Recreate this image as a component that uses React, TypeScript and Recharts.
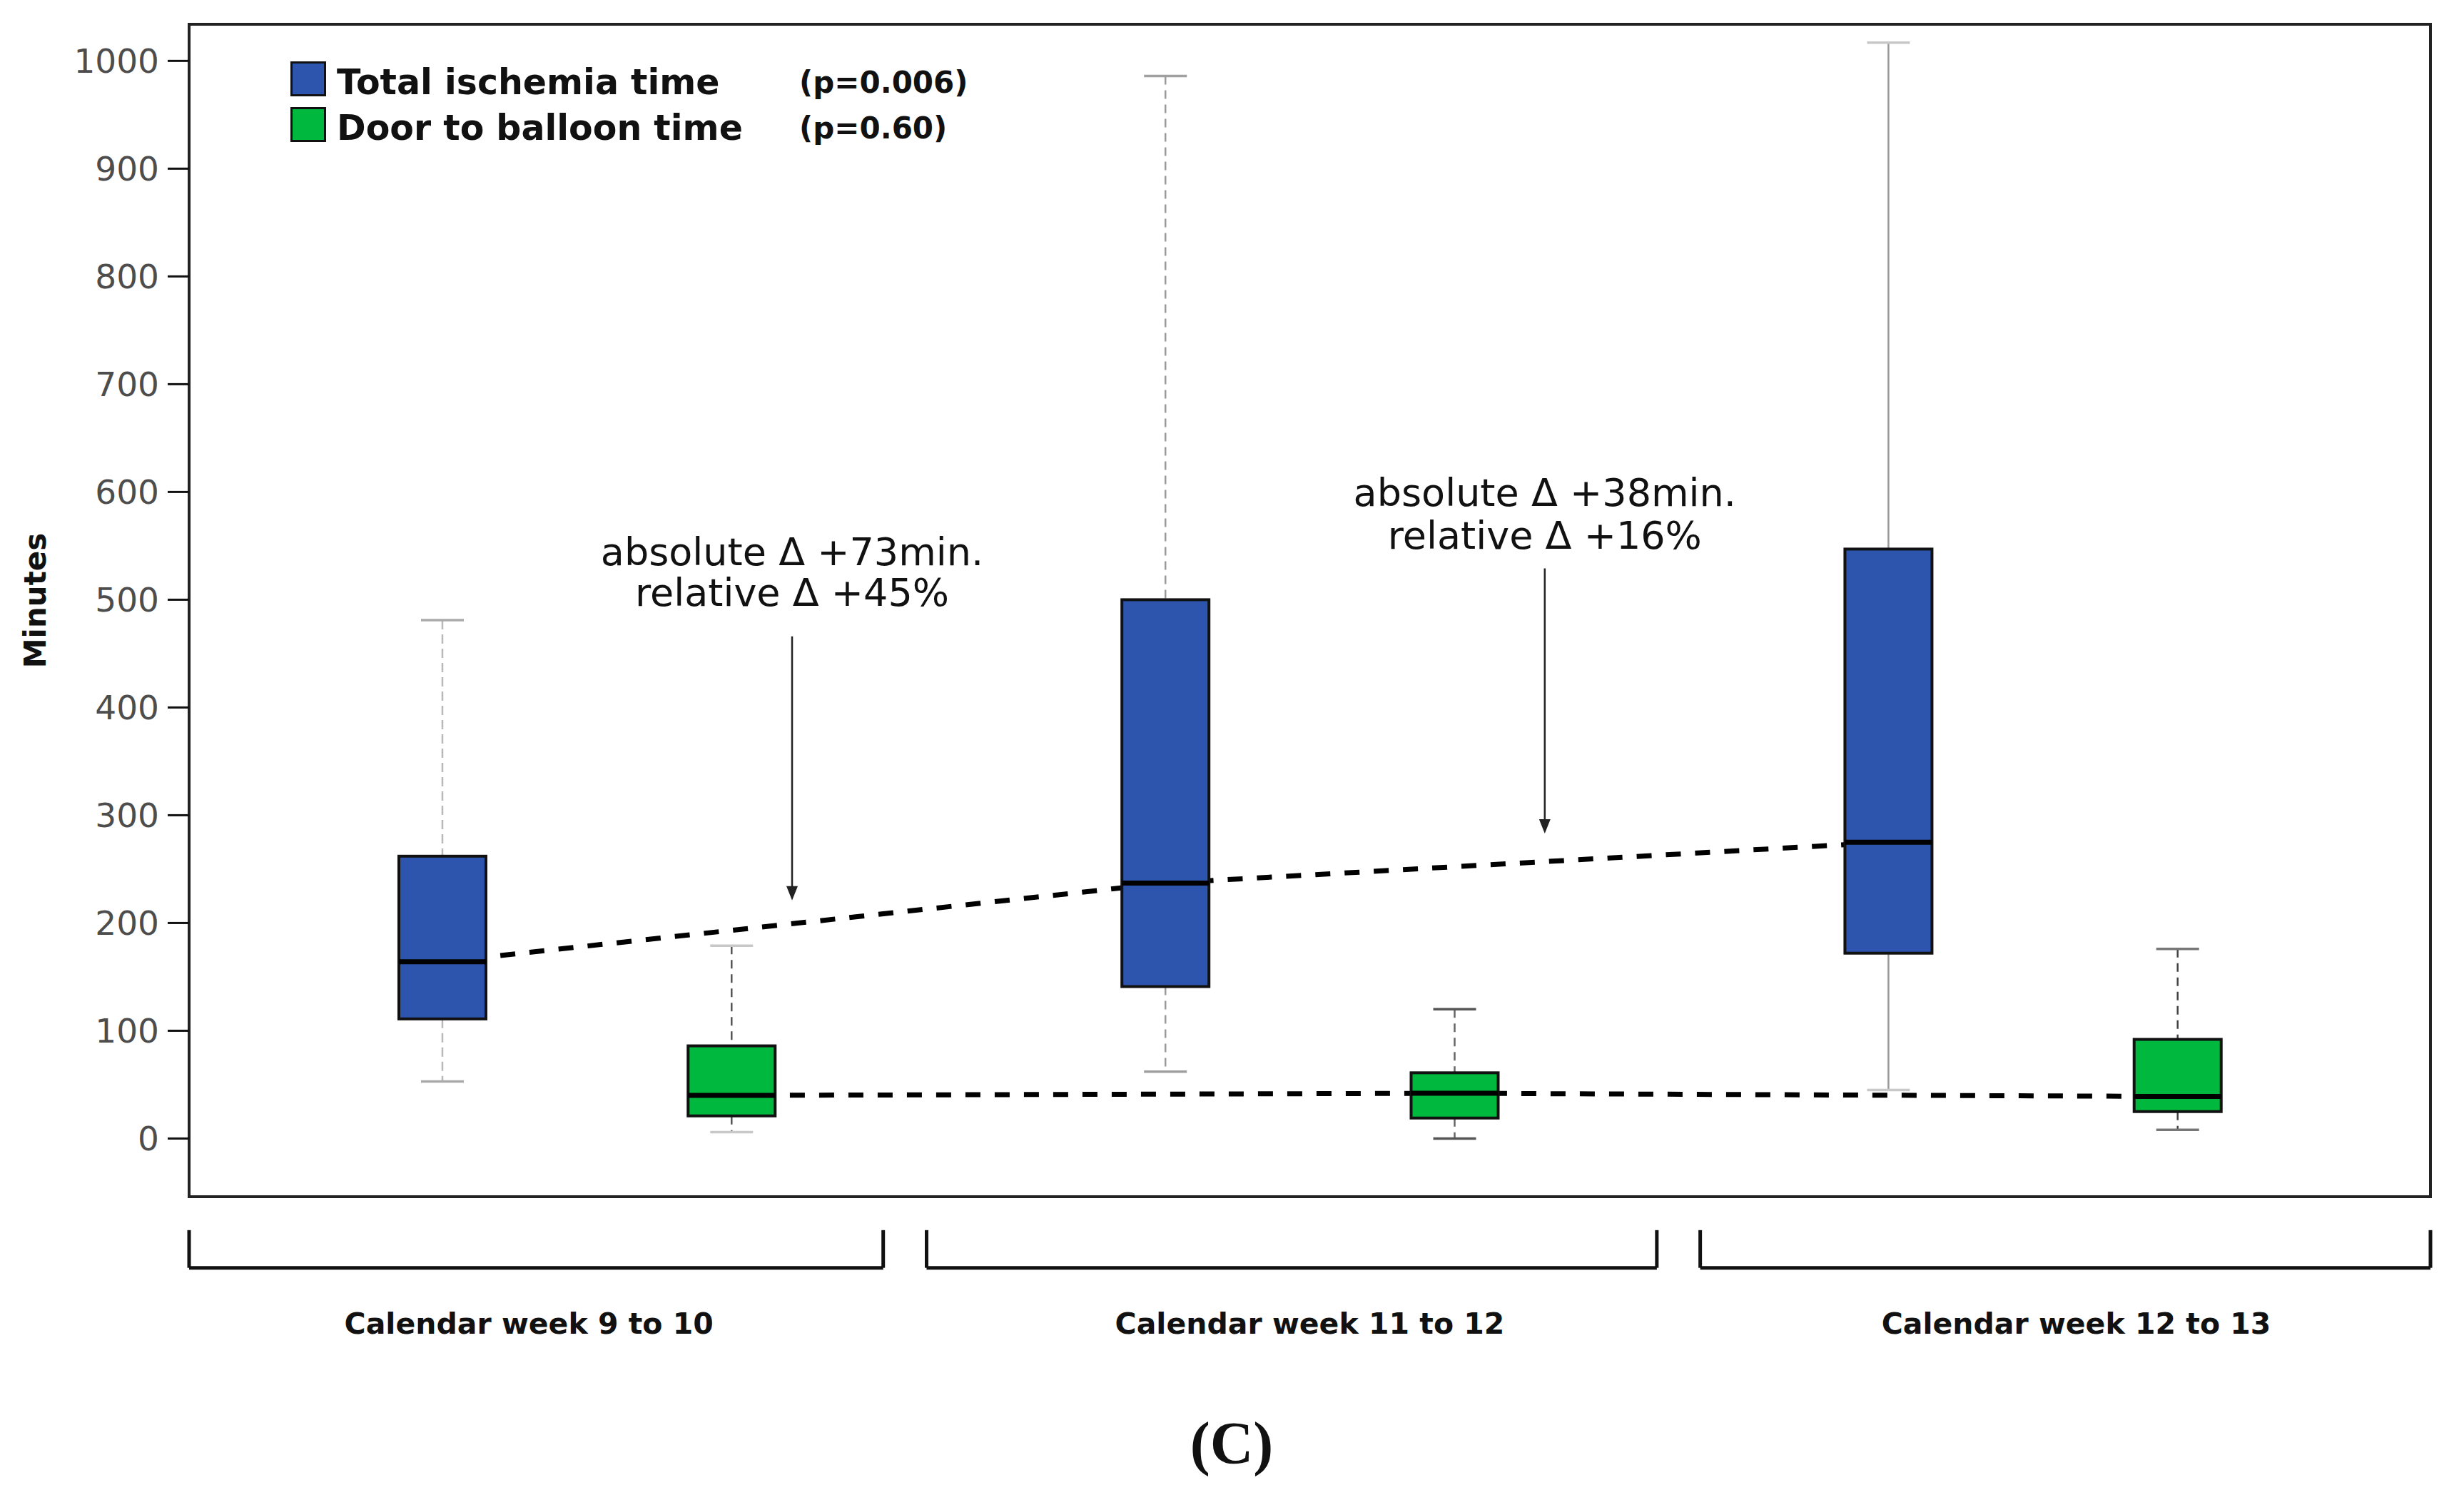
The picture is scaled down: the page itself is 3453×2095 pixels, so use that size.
import React from "react";
import {
  ComposedChart,
  Bar,
  Line,
  XAxis,
  YAxis,
  Legend,
  ReferenceArea,
  ReferenceLine,
  ReferenceDot,
} from "recharts";

// --- data (minutes) ---
const weeks = ["Calendar week 9 to 10", "Calendar week 11 to 12", "Calendar week 12 to 13"];

const ischemiaMin = [53, 62, 45];
const ischemiaQ1 = [111, 141, 172];
const ischemiaMedian = [164, 237, 275];
const ischemiaQ3 = [262, 500, 547];
const ischemiaMax = [481, 986, 1017];

const balloonMin = [6, 0, 8];
const balloonQ1 = [21, 19, 25];
const balloonMedian = [40, 42, 39];
const balloonQ3 = [86, 61, 92];
const balloonMax = [179, 120, 176];

const seriesNames = ["Total ischemia time", "Door to balloon time"];
const pValues = ["(p=0.006)", "(p=0.60)"];
const yTicks = [0, 100, 200, 300, 400, 500, 600, 700, 800, 900, 1000];

const deltaLines = [
  ["absolute \u0394 +73min.", "relative \u0394 +45%"],
  ["absolute \u0394 +38min.", "relative \u0394 +16%"],
];

// --- layout ---
const W = 3430;
const H = 2075;
const X_DOMAIN: [number, number] = [0, 31];
const Y_DOMAIN: [number, number] = [-54, 1034];
const GROUP_SPAN = 10;
const SERIES_OFFSET = [3.5, 7.5];
const COLORS = ["#2d55ad", "#00b83d"];
const LABEL_X = [4.7, 15.5, 26.1];
const BRACKETS = [
  [0, 9.6],
  [10.2, 20.3],
  [20.9, 31],
];
const BRACKET_TOP = -85;
const BRACKET_BOTTOM = -120;

// where the arrows / notes sit, in chart units
const NOTE_POS = [
  { x: 8.34, top: 466, tip: 221, rows: [532, 494] },
  { x: 18.75, top: 529, tip: 283, rows: [587, 547] },
];

// whisker look per box, in drawing order
const boxStyles = [
  { whisker: "#b8b8b8", dash: "13 7", cap: "#aaaaaa" },
  { whisker: "#555555", dash: "12 8", cap: "#c8c8c8" },
  { whisker: "#9a9a9a", dash: "12 8", cap: "#a0a0a0" },
  { whisker: "#666666", dash: "12 8", cap: "#555555" },
  { whisker: "#999999", dash: undefined, cap: "#c8c8c8" },
  { whisker: "#444444", dash: "12 8", cap: "#777777" },
];

const ischemiaRows = weeks.map((w, i) => ({
  week: w,
  series: 0,
  slot: i * 2,
  x: i * GROUP_SPAN + SERIES_OFFSET[0],
  min: ischemiaMin[i],
  q1: ischemiaQ1[i],
  median: ischemiaMedian[i],
  q3: ischemiaQ3[i],
  max: ischemiaMax[i],
}));

const balloonRows = weeks.map((w, i) => ({
  week: w,
  series: 1,
  slot: i * 2 + 1,
  x: i * GROUP_SPAN + SERIES_OFFSET[1],
  min: balloonMin[i],
  q1: balloonQ1[i],
  median: balloonMedian[i],
  q3: balloonQ3[i],
  max: balloonMax[i],
}));

const boxRows = weeks.flatMap((_, i) => [ischemiaRows[i], balloonRows[i]]);

function BoxShape(props: any) {
  const { x, y, width, height, payload } = props;
  if (!payload || !Number.isFinite(y) || !Number.isFinite(height)) return null;
  const top = Math.min(y, y + height);
  const span = Math.abs(height);
  const range = payload.max - payload.min || 1;
  const py = (v: number) => top + (span * (payload.max - v)) / range;
  const cx = x + width / 2;
  const s = boxStyles[payload.slot] ?? boxStyles[0];
  const cap = 30;
  return (
    <g>
      <line x1={cx} x2={cx} y1={py(payload.max)} y2={py(payload.q3)} stroke={s.whisker} strokeWidth={2.5} strokeDasharray={s.dash} />
      <line x1={cx} x2={cx} y1={py(payload.q1)} y2={py(payload.min)} stroke={s.whisker} strokeWidth={2.5} strokeDasharray={s.dash} />
      <line x1={cx - cap} x2={cx + cap} y1={py(payload.max)} y2={py(payload.max)} stroke={s.cap} strokeWidth={3.5} />
      <line x1={cx - cap} x2={cx + cap} y1={py(payload.min)} y2={py(payload.min)} stroke={s.cap} strokeWidth={3.5} />
      <rect
        x={x}
        y={py(payload.q3)}
        width={width}
        height={py(payload.q1) - py(payload.q3)}
        fill={COLORS[payload.series]}
        stroke="#111"
        strokeWidth={4}
      />
      <line x1={x} x2={x + width} y1={py(payload.median)} y2={py(payload.median)} stroke="#000" strokeWidth={7} />
    </g>
  );
}

function LegendBox() {
  return (
    <div style={{ position: "relative", fontFamily: "DejaVu Sans", fontWeight: "bold", color: "#111" }}>
      {seriesNames.map((name, i) => (
        <div key={name} style={{ position: "relative", height: 49, marginBottom: i === 0 ? 15 : 0, display: "flex", alignItems: "center" }}>
          <div
            style={{
              width: 50,
              height: 49,
              boxSizing: "border-box",
              border: "3px solid #111",
              background: COLORS[i],
            }}
          />
          <span style={{ marginLeft: 15, fontSize: 49, lineHeight: "49px", position: "relative", top: 5 }}>{name}</span>
          <span style={{ position: "absolute", left: 713, top: 5, fontSize: 42, lineHeight: "49px" }}>{pValues[i]}</span>
        </div>
      ))}
    </div>
  );
}

const renderMinutes = (p: any) => {
  const vb = p.viewBox;
  const cx = vb.x + 21;
  const cy = vb.y + vb.height / 2 - 14;
  return (
    <text
      x={cx}
      y={cy}
      transform={`rotate(-90 ${cx} ${cy})`}
      textAnchor="middle"
      dominantBaseline="central"
      fontSize={42}
      fontWeight="bold"
      fill="#111"
    >
      Minutes
    </text>
  );
};

export default function App() {
  return (
    <div style={{ position: "relative", width: W, height: 2087, fontFamily: "DejaVu Sans" }}>
      <ComposedChart
        width={W}
        height={H}
        data={boxRows}
        margin={{ top: 26, right: 32, bottom: 106, left: 20 }}
        style={{ fontFamily: "DejaVu Sans" }}
      >
        <XAxis
          type="number"
          dataKey="x"
          domain={X_DOMAIN}
          ticks={LABEL_X}
          interval={0}
          tickFormatter={(_v: number, i: number) => weeks[i]}
          axisLine={false}
          tickLine={false}
          tickSize={0}
          tickMargin={163}
          height={300}
          tick={{ fill: "#111", fontSize: 41, fontWeight: "bold" }}
          allowDataOverflow
        />
        <YAxis
          type="number"
          domain={Y_DOMAIN}
          ticks={yTicks}
          interval={0}
          width={237}
          axisLine={false}
          tickLine={{ stroke: "#111", strokeWidth: 3 }}
          tickSize={30}
          tickMargin={12}
          tick={{ fill: "#4d4d4d", fontSize: 47 }}
          allowDataOverflow
          label={{ content: renderMinutes }}
        />
        <ReferenceArea
          x1={X_DOMAIN[0]}
          x2={X_DOMAIN[1]}
          y1={Y_DOMAIN[0]}
          y2={Y_DOMAIN[1]}
          fill="none"
          stroke="#222"
          strokeWidth={4}
          ifOverflow="visible"
        />
        <Legend
          layout="horizontal"
          verticalAlign="middle"
          align="center"
          wrapperStyle={{ position: "absolute", top: 78, left: 399, width: 1100, height: 113 }}
          content={() => <LegendBox />}
        />
        <Line
          data={ischemiaRows}
          dataKey="median"
          type="linear"
          stroke="#000"
          strokeWidth={7}
          strokeDasharray="21 20"
          dot={false}
          activeDot={false}
          isAnimationActive={false}
          legendType="none"
          zIndex={250}
        />
        <Line
          data={balloonRows}
          dataKey="median"
          type="linear"
          stroke="#000"
          strokeWidth={7}
          strokeDasharray="21 20"
          dot={false}
          activeDot={false}
          isAnimationActive={false}
          legendType="none"
          zIndex={250}
        />
        <Bar
          dataKey={(d: any) => [d.min, d.max]}
          barSize={122}
          shape={BoxShape}
          isAnimationActive={false}
        />
        {NOTE_POS.map((n, i) => (
          <ReferenceLine
            key={`arrow-${i}`}
            segment={[
              { x: n.x, y: n.top },
              { x: n.x, y: n.tip + 6 },
            ]}
            stroke="#222"
            strokeWidth={2.5}
          />
        ))}
        {NOTE_POS.map((n, i) => (
          <ReferenceDot
            key={`head-${i}`}
            x={n.x}
            y={n.tip}
            r={0}
            shape={(p: any) => (
              <polygon points={`${p.cx - 8},${p.cy - 20} ${p.cx + 8},${p.cy - 20} ${p.cx},${p.cy}`} fill="#222" />
            )}
          />
        ))}
        {NOTE_POS.flatMap((n, i) =>
          deltaLines[i].map((txt, j) => (
            <ReferenceDot
              key={`note-${i}-${j}`}
              x={n.x}
              y={n.rows[j]}
              r={0}
              shape={(p: any) => (
                <text x={p.cx} y={p.cy} textAnchor="middle" fontSize={54} fill="#111">
                  {txt}
                </text>
              )}
            />
          ))
        )}
        {BRACKETS.flatMap(([a, b], i) => [
          <ReferenceLine
            key={`bl-${i}`}
            segment={[
              { x: a, y: BRACKET_TOP },
              { x: a, y: BRACKET_BOTTOM },
            ]}
            stroke="#111"
            strokeWidth={5}
            ifOverflow="visible"
          />,
          <ReferenceLine
            key={`bb-${i}`}
            segment={[
              { x: a, y: BRACKET_BOTTOM },
              { x: b, y: BRACKET_BOTTOM },
            ]}
            stroke="#111"
            strokeWidth={5}
            ifOverflow="visible"
          />,
          <ReferenceLine
            key={`br-${i}`}
            segment={[
              { x: b, y: BRACKET_TOP },
              { x: b, y: BRACKET_BOTTOM },
            ]}
            stroke="#111"
            strokeWidth={5}
            ifOverflow="visible"
          />,
        ])}
      </ComposedChart>
      <div
        style={{
          position: "absolute",
          top: 1973,
          left: 1718,
          transform: "translateX(-50%)",
          fontFamily: "Liberation Serif",
          fontWeight: "bold",
          fontSize: 84,
          lineHeight: 1,
          color: "#111",
        }}
      >
        (C)
      </div>
    </div>
  );
}
